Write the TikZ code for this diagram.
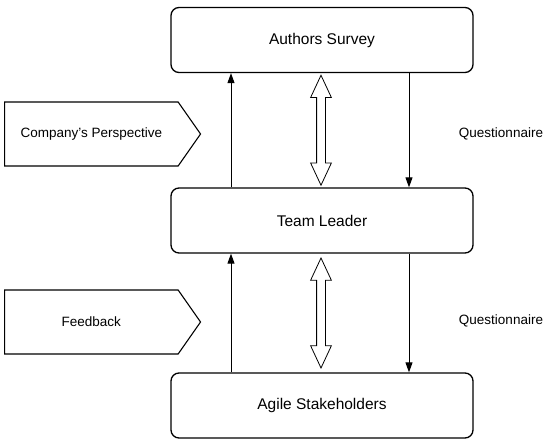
\documentclass[tikz,border=0pt]{standalone}
\usepackage{fontspec}
\setmainfont{Liberation Sans}
\usetikzlibrary{shapes.symbols,shapes.arrows,arrows.meta,calc}

\begin{document}
\begin{tikzpicture}[x=1pt,y=-1pt,
	box/.style={draw, line width=1.3pt, rounded corners=8pt, minimum width=302pt,
		minimum height=65pt, inner sep=0pt, font=\fontsize{15.5}{18}\selectfont},
	tag/.style={draw, line width=1.1pt, shape=signal, signal to=east, signal pointer angle=110,
		minimum width=196pt, minimum height=64pt, inner sep=0pt, font=\fontsize{13.5}{16}\selectfont},
	flow/.style={line width=1pt, -{Triangle[length=10pt,width=7pt]}},
	twoway/.style={draw, line width=0.8pt, shape=double arrow, rotate=90, inner xsep=0pt,
		inner ysep=4pt, minimum height=110pt, double arrow tip angle=50,
		double arrow head extend=6pt},
	lbl/.style={font=\fontsize{13.5}{16}\selectfont}]
\useasboundingbox (0,0) rectangle (550,444);

%----------------------------
% Boxes
%----------------------------
\node[box] (survey) at (322,40) {Authors Survey};
\node[box] (leader) at (322,220.5) {Team Leader};
\node[box] (agile) at (322,405.5) {Agile Stakeholders};

%----------------------------
% Left tags
%----------------------------
\node[tag, anchor=west] (persp) at (4,134) {Company's Perspective};
\node[tag, anchor=west] (feedb) at (4,322) {Feedback};

%----------------------------
% Arrows between boxes
%----------------------------
% up: leader -> survey, agile -> leader
\draw[flow] (leader.north -| 231,0) -- (survey.south -| 231,0);
\draw[flow] (agile.north -| 231,0) -- (leader.south -| 231,0);

% down: survey -> leader, leader -> agile
\draw[flow] (survey.south -| 409,0) -- (leader.north -| 409,0);
\draw[flow] (leader.south -| 409,0) -- (agile.north -| 409,0);

% two-way
\node[twoway] (upper) at ($(survey.south)!0.5!(leader.north) + (-1,0)$) {};
\node[twoway] (lower) at ($(leader.south)!0.5!(agile.north) + (-1,0)$) {};

% labels
\node[lbl] (q1) at (501,134) {Questionnaire};
\node[lbl] (q2) at (501,321) {Questionnaire};

\end{tikzpicture}
\end{document}
